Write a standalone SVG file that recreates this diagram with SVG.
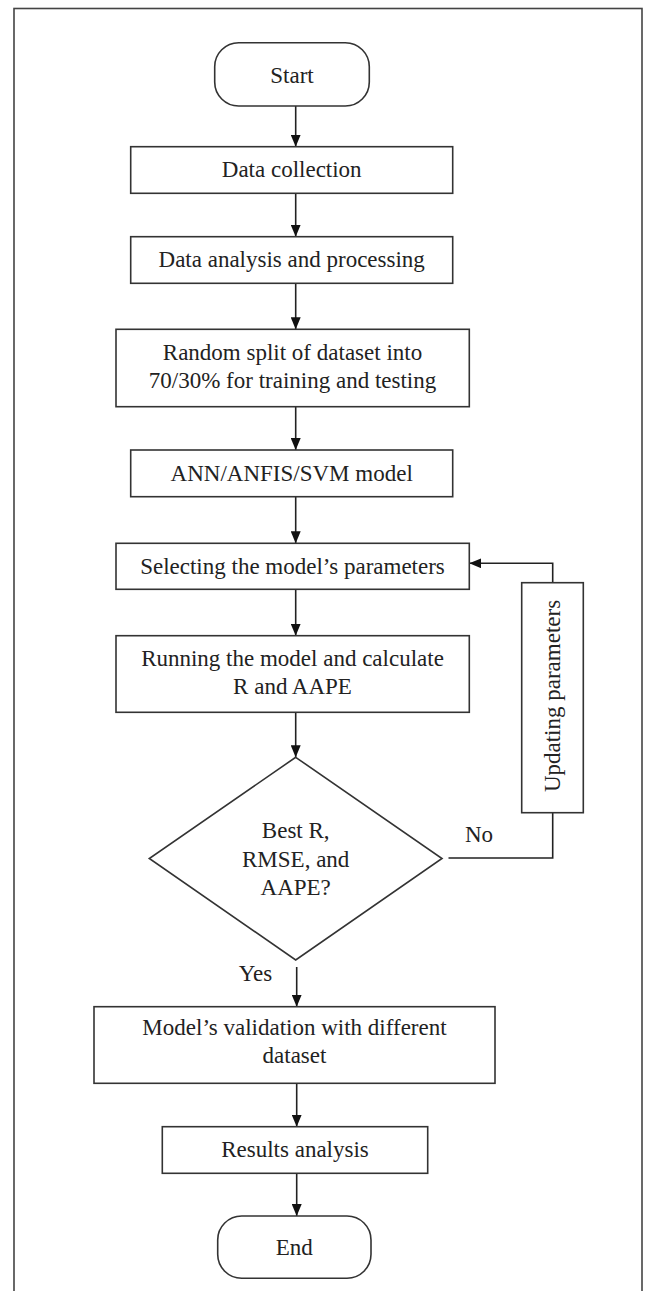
<svg xmlns="http://www.w3.org/2000/svg" width="645" height="1291" viewBox="0 0 645 1291">
  <style>
    .shape { fill: #ffffff; stroke: #333333; stroke-width: 1.6; }
    .conn { fill: none; stroke: #222222; stroke-width: 1.6; }
    .lbl { font-family: "Liberation Serif", "Times New Roman", serif; font-size: 23px; fill: #222222; text-anchor: middle; }
    .frame { fill: none; stroke: #444444; stroke-width: 1.6; }
  </style>
  <defs>
    <marker id="arrow" markerUnits="userSpaceOnUse" markerWidth="12" markerHeight="10" refX="12" refY="5" orient="auto">
      <path d="M0,0 L12,5 L0,10 Z" fill="#111111"/>
    </marker>
  </defs>
  <rect width="645" height="1291" fill="#ffffff"/>
  <rect class="frame" x="14" y="8.5" width="628" height="1300"/>

  <g id="connectors">
    <line class="conn" x1="295.7" y1="106" x2="295.7" y2="146.7" marker-end="url(#arrow)"/>
    <line class="conn" x1="295.7" y1="193.3" x2="295.7" y2="236.7" marker-end="url(#arrow)"/>
    <line class="conn" x1="295.7" y1="283.3" x2="295.7" y2="329.3" marker-end="url(#arrow)"/>
    <line class="conn" x1="295.7" y1="406.7" x2="295.7" y2="450" marker-end="url(#arrow)"/>
    <line class="conn" x1="295.7" y1="496.7" x2="295.7" y2="543.3" marker-end="url(#arrow)"/>
    <line class="conn" x1="295.7" y1="589.3" x2="295.7" y2="635.7" marker-end="url(#arrow)"/>
    <line class="conn" x1="295.7" y1="712.3" x2="295.7" y2="757.3" marker-end="url(#arrow)"/>
    <line class="conn" x1="296.7" y1="967" x2="296.7" y2="1006.7" marker-end="url(#arrow)"/>
    <line class="conn" x1="296.7" y1="1083.3" x2="296.7" y2="1126.7" marker-end="url(#arrow)"/>
    <line class="conn" x1="296.7" y1="1173.3" x2="296.7" y2="1216" marker-end="url(#arrow)"/>
    <polyline class="conn" points="448.5,858 552.7,858 552.7,812.7"/>
    <polyline class="conn" points="552.7,582.7 552.7,563.3 469.3,563.3" marker-end="url(#arrow)"/>
    <text class="lbl" x="479" y="842">No</text>
    <text class="lbl" x="255.5" y="981">Yes</text>
  </g>

  <g id="start">
    <rect class="shape" x="214.7" y="42.7" width="154.6" height="63.3" rx="24" ry="24"/>
    <text class="lbl" x="292" y="82.5">Start</text>
  </g>
  <g id="data-collection">
    <rect class="shape" x="130.7" y="146.7" width="322" height="46.6"/>
    <text class="lbl" x="291.7" y="177">Data collection</text>
  </g>
  <g id="data-analysis">
    <rect class="shape" x="130.7" y="236.7" width="322" height="46.6"/>
    <text class="lbl" x="291.7" y="267">Data analysis and processing</text>
  </g>
  <g id="random-split">
    <rect class="shape" x="116" y="329.3" width="353.3" height="77.4"/>
    <text class="lbl" x="292.5" y="360">Random split of dataset into</text>
    <text class="lbl" x="292.5" y="388.3">70/30% for training and testing</text>
  </g>
  <g id="model">
    <rect class="shape" x="130.7" y="450" width="322" height="46.7"/>
    <text class="lbl" x="291.7" y="481">ANN/ANFIS/SVM model</text>
  </g>
  <g id="select-params">
    <rect class="shape" x="116" y="543.3" width="353.3" height="46"/>
    <text class="lbl" x="292.5" y="574">Selecting the model’s parameters</text>
  </g>
  <g id="running">
    <rect class="shape" x="116" y="635.7" width="353.3" height="76.6"/>
    <text class="lbl" x="292.5" y="665.5">Running the model and calculate</text>
    <text class="lbl" x="292.5" y="693.5">R and AAPE</text>
  </g>
  <g id="decision">
    <polygon class="shape" points="295.7,757.3 442,858.5 295.7,960 149.3,858.5"/>
    <text class="lbl" x="295.7" y="837.7">Best R,</text>
    <text class="lbl" x="295.7" y="866.7">RMSE, and</text>
    <text class="lbl" x="295.7" y="895">AAPE?</text>
  </g>
  <g id="update-params">
    <rect class="shape" x="521.7" y="582.7" width="61.6" height="230"/>
    <text class="lbl" transform="translate(559.5 696) rotate(-90)" x="0" y="0">Updating parameters</text>
  </g>
  <g id="validation">
    <rect class="shape" x="94" y="1006.7" width="401" height="76.6"/>
    <text class="lbl" x="294.5" y="1035">Model’s validation with different</text>
    <text class="lbl" x="294.5" y="1063.3">dataset</text>
  </g>
  <g id="results">
    <rect class="shape" x="162.3" y="1126.7" width="265.4" height="46.6"/>
    <text class="lbl" x="295" y="1157">Results analysis</text>
  </g>
  <g id="end">
    <rect class="shape" x="217.7" y="1216" width="153.3" height="62.3" rx="24" ry="24"/>
    <text class="lbl" x="294.3" y="1255">End</text>
  </g>
</svg>
